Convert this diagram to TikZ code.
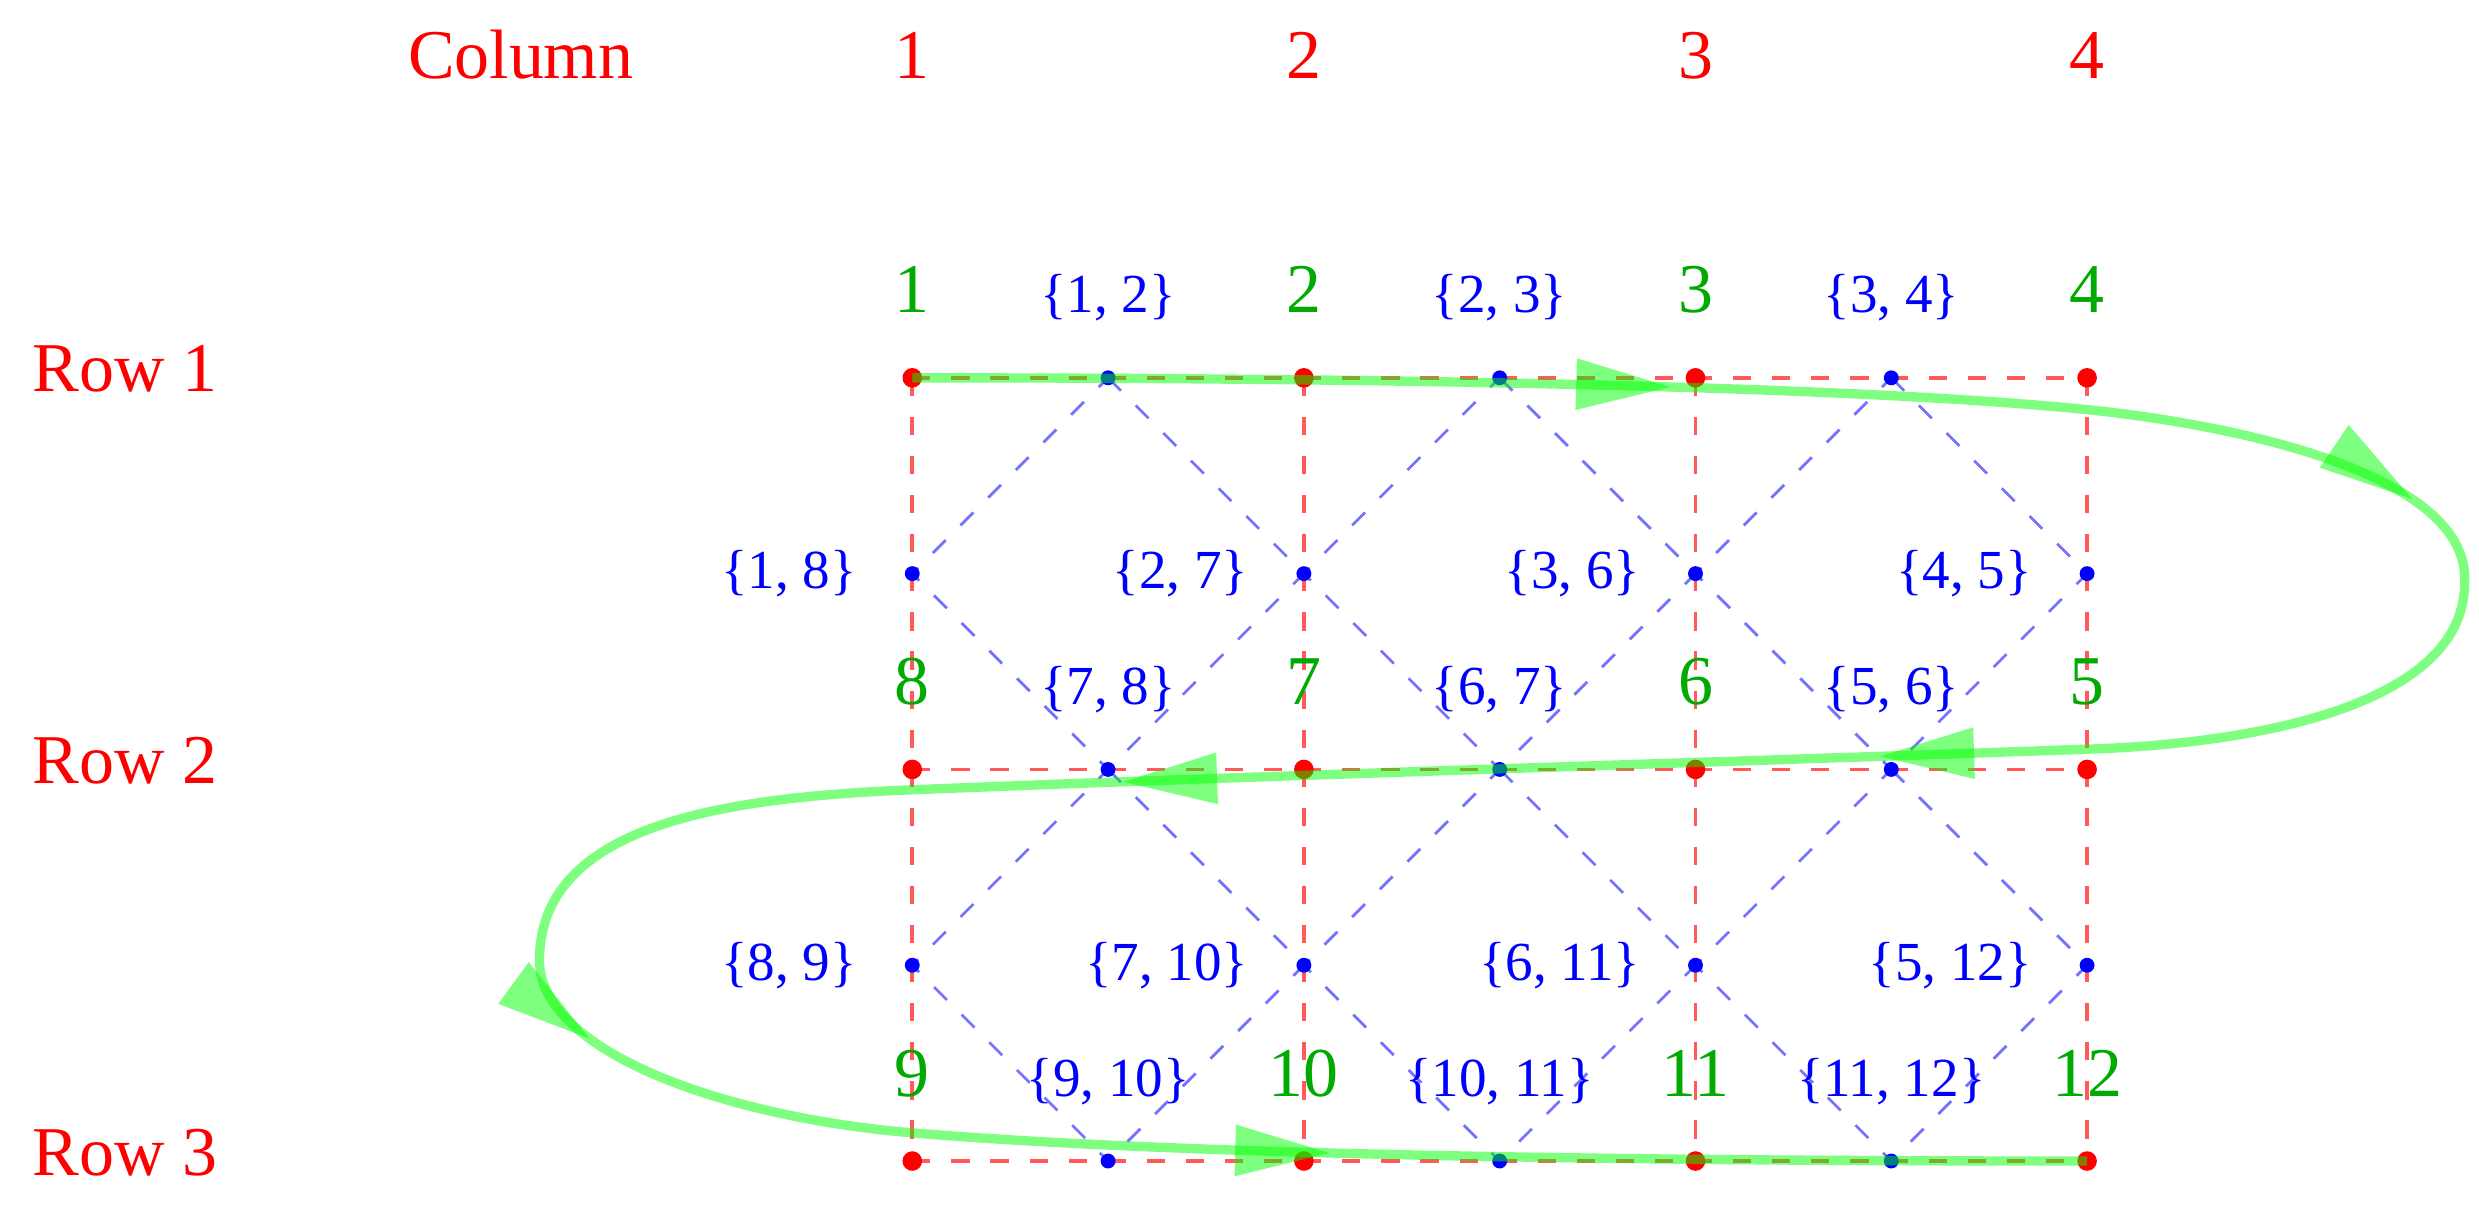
\documentclass[tikz,border=0pt]{standalone}
\usepackage{fontspec}
\setmainfont{Liberation Serif}
\usetikzlibrary{arrows.meta}
\usetikzlibrary{decorations.markings}
\usetikzlibrary{backgrounds}

\definecolor{darkgreen}{rgb}{0,0.667,0}
\definecolor{pathgreen}{rgb}{0,1,0}

\begin{document}
\begin{tikzpicture}
	\tikzstyle{gridpt}=[circle,fill=red,inner sep=0pt,minimum size=0.125cm]
	\tikzstyle{edgept}=[circle,fill=blue,inner sep=0pt,minimum size=0.095cm]
	\tikzstyle{gridline}=[red,opacity=0.65,line width=0.7pt,dash pattern=on 3.3pt off 3.8pt]
	\tikzstyle{diagline}=[blue,opacity=0.55,line width=0.5pt,dash pattern=on 3.3pt off 3.8pt]
	\tikzstyle{redtext}=[red,font=\fontsize{12.7}{15}\selectfont,anchor=base]
	\tikzstyle{vtext}=[text=darkgreen,font=\fontsize{12.7}{15}\selectfont,anchor=base,yshift=0.415cm]
	\tikzstyle{etext}=[blue,font=\fontsize{10}{12}\selectfont]
	\tikzset{tri/.tip={Triangle[length=0.6cm,width=0.33cm,line width=0pt]}}
	\tikzstyle{walk}=[pathgreen,opacity=0.5,line width=1.7pt,postaction={decorate},
		decoration={markings,
			mark=at position 0.1429 with {\arrow{tri}},
			mark=at position 0.2857 with {\arrow{tri}},
			mark=at position 0.4286 with {\arrow{tri}},
			mark=at position 0.5714 with {\arrow{tri}},
			mark=at position 0.7143 with {\arrow{tri}},
			mark=at position 0.8571 with {\arrow{tri}}}]
	\useasboundingbox (-5.824,-5.359) rectangle (10.002,2.412);

	% headings
	\node[redtext] (colhead) at (-2.5,1.912){Column};
	\foreach \c in {1,2,3,4}
		\node[redtext] (col\c) at ({2.5*(\c-1)},1.912){\c};
	\foreach \r in {1,2,3}
		\node[redtext,anchor=base west] (row\r) at (-5.74,{-2.5*(\r-1)-0.09}){Row \r};

	% vertices, numbered along the walk
	\foreach \c/\a/\b/\d in {1/1/8/9,2/2/7/10,3/3/6/11,4/4/5/12}{
		\node[gridpt] (g1\c) at ({2.5*(\c-1)},0){};
		\node[gridpt] (g2\c) at ({2.5*(\c-1)},-2.5){};
		\node[gridpt] (g3\c) at ({2.5*(\c-1)},-5){};
		\node[vtext] (n1\c) at (g1\c){\a};
		\node[vtext] (n2\c) at (g2\c){\b};
		\node[vtext] (n3\c) at (g3\c){\d};
		% midpoints of the vertical edges
		\node[edgept] (w1\c) at ({2.5*(\c-1)},-1.25){};
		\node[edgept] (w2\c) at ({2.5*(\c-1)},-3.75){};
		\node[etext,anchor=east,xshift=-0.23cm] (k1\c) at (w1\c){\{\a, \b\}};
		\node[etext,anchor=east,xshift=-0.23cm] (k2\c) at (w2\c){\{\b, \d\}};
	}

	% midpoints of the horizontal edges
	\foreach \c/\p/\q/\s in {1/1/7/9,2/2/6/10,3/3/5/11}{
		\pgfmathtruncatemacro\pp{\p+1}
		\pgfmathtruncatemacro\qq{\q+1}
		\pgfmathtruncatemacro\ss{\s+1}
		\node[edgept] (h1\c) at ({2.5*\c-1.25},0){};
		\node[edgept] (h2\c) at ({2.5*\c-1.25},-2.5){};
		\node[edgept] (h3\c) at ({2.5*\c-1.25},-5){};
		\node[etext,anchor=base,yshift=0.415cm] (m1\c) at (h1\c){\{\p, \pp\}};
		\node[etext,anchor=base,yshift=0.415cm] (m2\c) at (h2\c){\{\q, \qq\}};
		\node[etext,anchor=base,yshift=0.415cm] (m3\c) at (h3\c){\{\s, \ss\}};
	}

	\begin{pgfonlayer}{background}
		\foreach \r in {1,2,3}
			\draw[gridline] (g\r1.center) -- (g\r4.center);
		\foreach \c in {1,2,3,4}
			\draw[gridline] (g1\c.center) -- (g3\c.center);
		\foreach \r in {1,2}
			\foreach \c in {1,2,3}{
				\pgfmathtruncatemacro\rr{\r+1}
				\pgfmathtruncatemacro\cc{\c+1}
				\draw[diagline] (h\r\c.center) -- (w\r\cc.center) -- (h\rr\c.center) -- (w\r\c.center) -- cycle;
			}
	\end{pgfonlayer}

	% the walk through 1..12
	\draw[walk] (g11.center) .. controls (3,0) and (6,-0.05) .. (7.52,-0.205)
		.. controls (8.6,-0.32) and (9.95,-0.65) .. (9.91,-1.31)
		.. controls (9.91,-2.05) and (8.7,-2.33) .. (7.52,-2.37)
		.. controls (5,-2.46) and (2.5,-2.53) .. (0,-2.63)
		.. controls (-1.2,-2.678) and (-2.38,-2.85) .. (-2.38,-3.72)
		.. controls (-2.38,-4.3) and (-1.2,-4.72) .. (0,-4.82)
		.. controls (1.5,-4.945) and (4,-5) .. (g34.center);
\end{tikzpicture}
\end{document}
